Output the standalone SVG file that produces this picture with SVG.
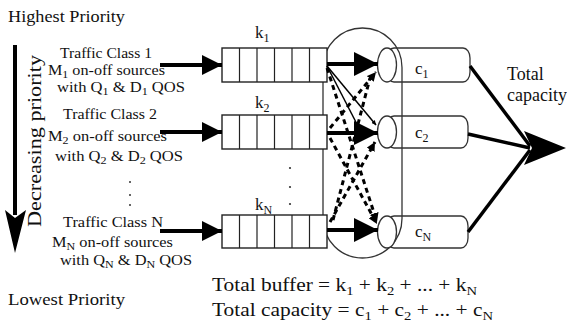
<svg xmlns="http://www.w3.org/2000/svg" width="567" height="330" viewBox="0 0 567 330">
<style>
text{font-family:'Liberation Serif','DejaVu Serif',serif;fill:#111}
.lbl{font-size:15px}
.big{font-size:19px}
.q{fill:#fff;stroke:#222;stroke-width:1.4}
.cell{stroke:#222;stroke-width:1.2}
.thick{stroke:#000;stroke-width:4;fill:none}
.dash{stroke:#000;stroke-width:3;stroke-dasharray:5 4;fill:none}
.thin{stroke:#000;stroke-width:1.5;fill:none}
.cyl{fill:none;stroke:#333;stroke-width:1.3}
.cap{fill:#fff;stroke:#333;stroke-width:1.3}
</style>
<defs>
<marker id="ah" viewBox="0 0 10 10" refX="10" refY="5" markerWidth="5.5" markerHeight="5" orient="auto" markerUnits="strokeWidth"><path d="M0,0 L10,5 L0,10 z" fill="#000"/></marker>
<marker id="ahs" viewBox="0 0 10 10" refX="10" refY="5" markerWidth="3" markerHeight="3" orient="auto" markerUnits="strokeWidth"><path d="M0,0 L10,5 L0,10 z" fill="#000"/></marker>
<marker id="aht" viewBox="0 0 10 10" refX="10" refY="5" markerWidth="6" markerHeight="6" orient="auto" markerUnits="strokeWidth"><path d="M0,0 L10,5 L0,10 z" fill="#000"/></marker>
</defs>
<g font-family="Liberation Serif, DejaVu Serif, serif">
<g id="priority">
<text x="8" y="22" font-size="17" textLength="117" lengthAdjust="spacingAndGlyphs">Highest Priority</text>
<text x="8" y="305" font-size="17" textLength="117" lengthAdjust="spacingAndGlyphs">Lowest Priority</text>
<line x1="15" y1="45" x2="15" y2="215" stroke="#000" stroke-width="4"/>
<polygon points="5,210 15,253 26,210 15,218" fill="#000"/>
<text transform="translate(41,227) rotate(-90)" font-size="18" textLength="172" lengthAdjust="spacingAndGlyphs">Decreasing priority</text>
</g>

<g id="class1" class="lbl">
<text x="60" y="58" textLength="92" lengthAdjust="spacingAndGlyphs">Traffic Class 1</text>
<text x="48" y="75" textLength="117" lengthAdjust="spacingAndGlyphs">M<tspan dy="3" font-size="11">1</tspan><tspan dy="-3"> on-off sources</tspan></text>
<text x="57" y="92" textLength="128" lengthAdjust="spacingAndGlyphs">with Q<tspan dy="3" font-size="11">1</tspan><tspan dy="-3"> &amp; D</tspan><tspan dy="3" font-size="11">1</tspan><tspan dy="-3"> QOS</tspan></text>
</g>
<g id="class2" class="lbl">
<text x="63" y="119" textLength="94" lengthAdjust="spacingAndGlyphs">Traffic Class 2</text>
<text x="48" y="141" textLength="119" lengthAdjust="spacingAndGlyphs">M<tspan dy="3" font-size="11">2</tspan><tspan dy="-3"> on-off sources</tspan></text>
<text x="55" y="161" textLength="128" lengthAdjust="spacingAndGlyphs">with Q<tspan dy="3" font-size="11">2</tspan><tspan dy="-3"> &amp; D</tspan><tspan dy="3" font-size="11">2</tspan><tspan dy="-3"> QOS</tspan></text>
</g>
<g id="classN" class="lbl">
<text x="63" y="227" textLength="100" lengthAdjust="spacingAndGlyphs">Traffic Class N</text>
<text x="52" y="247" textLength="121" lengthAdjust="spacingAndGlyphs">M<tspan dy="3" font-size="11">N</tspan><tspan dy="-3"> on-off sources</tspan></text>
<text x="60" y="265" textLength="132" lengthAdjust="spacingAndGlyphs">with Q<tspan dy="3" font-size="11">N</tspan><tspan dy="-3"> &amp; D</tspan><tspan dy="3" font-size="11">N</tspan><tspan dy="-3"> QOS</tspan></text>
</g>
<g id="dots" fill="#333">
<circle cx="130" cy="182" r="1"/><circle cx="130" cy="195" r="1"/><circle cx="130" cy="205" r="1"/>
<circle cx="290" cy="168" r="1.1"/><circle cx="290" cy="187" r="1.1"/><circle cx="290" cy="204" r="1.1"/>
</g>

<g id="mux">
<rect x="323" y="28" width="79" height="230" rx="39.5" ry="39.5" fill="none" stroke="#333" stroke-width="1.3"/>
</g>

<g id="queue1">
<rect class="q" x="222" y="48" width="105" height="34"/>
<path class="cell" d="M239.5,48v34M257,48v34M274.5,48v34M292,48v34M309.5,48v34"/>
<text x="255" y="38" font-size="17">k<tspan dy="4" font-size="12">1</tspan></text>
</g>
<g id="queue2">
<rect class="q" x="222" y="115" width="105" height="34"/>
<path class="cell" d="M239.5,115v34M257,115v34M274.5,115v34M292,115v34M309.5,115v34"/>
<text x="255" y="108" font-size="17">k<tspan dy="4" font-size="12">2</tspan></text>
</g>
<g id="queueN">
<rect class="q" x="222" y="215" width="105" height="33"/>
<path class="cell" d="M239.5,215v33M257,215v33M274.5,215v33M292,215v33M309.5,215v33"/>
<text x="255" y="210" font-size="17">k<tspan dy="4" font-size="12">N</tspan></text>
</g>

<g id="server1">
<rect class="cyl" x="387" y="48" width="83" height="34" rx="7" ry="10"/>
<ellipse class="cap" cx="387" cy="65" rx="9.5" ry="17"/>
<text x="415" y="74" font-size="17">c<tspan dy="4" font-size="12">1</tspan></text>
</g>
<g id="server2">
<rect class="cyl" x="387" y="116" width="81" height="32" rx="7" ry="10"/>
<ellipse class="cap" cx="387" cy="132" rx="9.5" ry="16"/>
<text x="415" y="138" font-size="17">c<tspan dy="4" font-size="12">2</tspan></text>
</g>
<g id="serverN">
<rect class="cyl" x="387" y="216" width="81" height="32" rx="7" ry="10"/>
<ellipse class="cap" cx="387" cy="232" rx="9.5" ry="16"/>
<text x="415" y="237" font-size="17">c<tspan dy="4" font-size="12">N</tspan></text>
</g>

<g id="connectors">
<line class="thick" x1="160" y1="65" x2="222" y2="65" marker-end="url(#ah)"/>
<line class="thick" x1="160" y1="132" x2="222" y2="132" marker-end="url(#ah)"/>
<line class="thick" x1="160" y1="231" x2="222" y2="231" marker-end="url(#ah)"/>

<line class="thick" x1="327" y1="64" x2="378" y2="64" marker-end="url(#aht)"/>
<line class="thick" x1="327" y1="133" x2="378" y2="133" marker-end="url(#aht)"/>
<line class="thick" x1="327" y1="230" x2="378" y2="230" marker-end="url(#aht)"/>

<line class="thin" x1="327" y1="66" x2="376" y2="125" marker-end="url(#ahs)"/>
<line class="thin" x1="327" y1="66" x2="360" y2="130"/>
<line class="dash" x1="327" y1="68" x2="377" y2="222" marker-end="url(#ahs)"/>
<line class="dash" x1="330" y1="128" x2="376" y2="72" marker-end="url(#ahs)"/>
<line class="dash" x1="330" y1="138" x2="377" y2="224" marker-end="url(#ahs)"/>
<line class="dash" x1="330" y1="222" x2="375" y2="142" marker-end="url(#ahs)"/>
<line class="dash" x1="333" y1="220" x2="370" y2="78"/>

<line x1="470" y1="66" x2="530" y2="146" stroke="#000" stroke-width="3.5"/>
<line x1="468" y1="134" x2="530" y2="148" stroke="#000" stroke-width="3.5"/>
<line x1="468" y1="232" x2="530" y2="150" stroke="#000" stroke-width="3.5"/>
<polygon points="524,131 566,148 524,165 532,148" fill="#000"/>
</g>

<g id="totals">
<text x="507" y="80" font-size="18">Total</text>
<text x="507" y="101" font-size="18">capacity</text>
<text x="212" y="291" class="big" textLength="265" lengthAdjust="spacingAndGlyphs">Total buffer = k<tspan dy="4" font-size="13">1</tspan><tspan dy="-4"> + k</tspan><tspan dy="4" font-size="13">2</tspan><tspan dy="-4"> + ... + k</tspan><tspan dy="4" font-size="13">N</tspan></text>
<text x="212" y="316" class="big" textLength="281" lengthAdjust="spacingAndGlyphs">Total capacity = c<tspan dy="4" font-size="13">1</tspan><tspan dy="-4"> + c</tspan><tspan dy="4" font-size="13">2</tspan><tspan dy="-4"> + ... + c</tspan><tspan dy="4" font-size="13">N</tspan></text>
</g>
</g>
</svg>
